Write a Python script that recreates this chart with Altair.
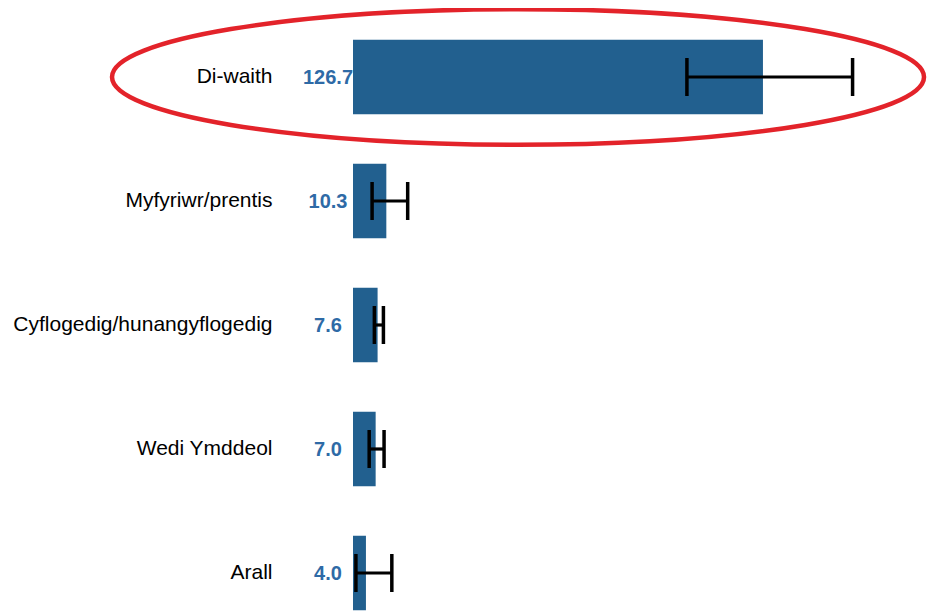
import altair as alt
import pandas as pd

categories = ["Di-waith", "Myfyriwr/prentis", "Cyflogedig/hunangyflogedig", "Wedi Ymddeol", "Arall"]
values = [126.7, 10.3, 7.6, 7.0, 4.0]
lower = [103.2, 5.9, 6.6, 5.0, 0.9]
upper = [154.4, 16.9, 9.4, 9.6, 12.0]

highlight_category = ["Di-waith"]
highlight_center = [51.0]

df = pd.DataFrame({"cat": categories, "val": values, "lo": lower, "hi": upper})
hl = pd.DataFrame({"cat": highlight_category, "xc": highlight_center})

FONT = "Arial, Liberation Sans"
BAR = "#22608f"
TXT = "#2e6aa6"

y_enc = alt.Y(
    "cat:N",
    sort=categories,
    scale=alt.Scale(paddingInner=0.4, paddingOuter=0.2),
    axis=alt.Axis(
        title=None, ticks=False, domain=False, labelPadding=81,
        labelFontSize=21, labelFont=FONT, labelColor="#000000", labelLimit=0,
    ),
)
x_scale = alt.Scale(domain=[0, 177.4], nice=False, zero=True)

base = alt.Chart(df)

bars = base.mark_bar(color=BAR).encode(
    x=alt.X("val:Q", scale=x_scale, axis=None),
    y=y_enc,
)

labels = base.mark_text(
    align="center", baseline="middle", dx=-25, dy=1, fontSize=20, fontWeight="bold",
    font=FONT, color=TXT,
).encode(
    x=alt.datum(0, scale=x_scale),
    y=alt.Y("cat:N", sort=categories),
    text=alt.Text("val:Q", format=".1f"),
)

rule = base.mark_rule(color="black", strokeWidth=3.2).encode(
    x=alt.X("lo:Q", scale=x_scale),
    x2="hi:Q",
    y=alt.Y("cat:N", sort=categories),
)
cap_lo = base.mark_tick(color="black", thickness=3.5, size=38, opacity=1).encode(
    x=alt.X("lo:Q", scale=x_scale),
    y=alt.Y("cat:N", sort=categories),
)
cap_hi = base.mark_tick(color="black", thickness=3.5, size=38, opacity=1).encode(
    x=alt.X("hi:Q", scale=x_scale),
    y=alt.Y("cat:N", sort=categories),
)

ellipse = alt.Chart(hl).mark_point(
    shape="M -1 0 A 1 0.167 0 1 1 1 0 A 1 0.167 0 1 1 -1 0 Z",
    size=659344, filled=False, stroke="#e3232a", strokeWidth=4.5, opacity=1,
).encode(
    x=alt.X("xc:Q", scale=x_scale),
    y=alt.Y("cat:N", sort=categories),
)

chart = alt.layer(bars, labels, rule, cap_lo, cap_hi, ellipse).properties(
    width=574,
    height=620,
    autosize=alt.AutoSizeParams(type="none"),
    padding={"left": 345, "top": 7, "right": 0, "bottom": 0},
).configure_view(stroke=None)

chart.save("out.html", embed_options={"renderer": "svg", "actions": False})
